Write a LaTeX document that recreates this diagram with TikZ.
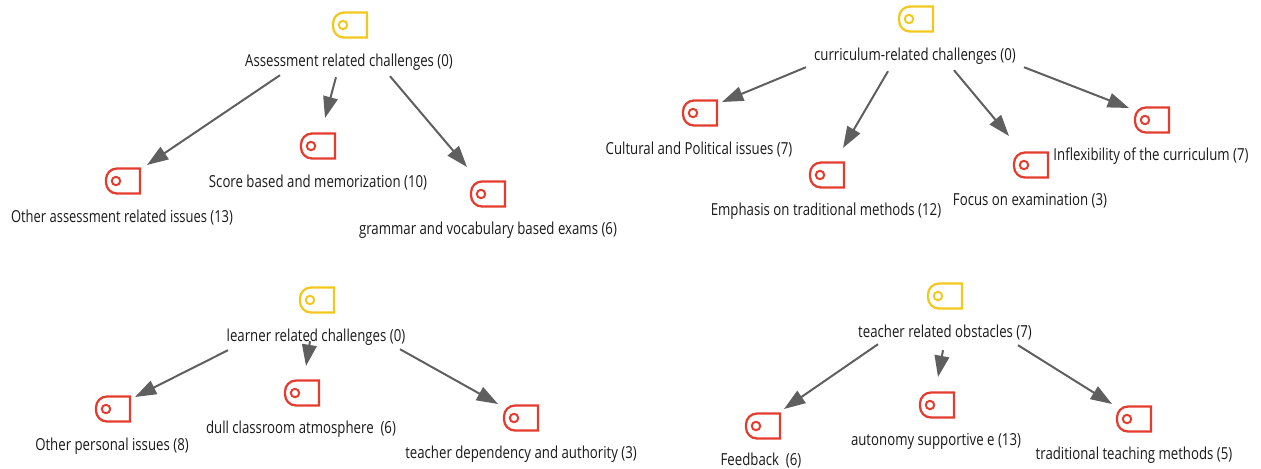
\documentclass[tikz,border=0pt]{standalone}
\usepackage{fontspec}
\setmainfont[FakeStretch=0.80]{Open Sans}
\usetikzlibrary{arrows.meta,calc}
\definecolor{tagred}{HTML}{E43D2F}
\definecolor{tagyellow}{HTML}{F2C81E}
\definecolor{linkgrey}{HTML}{5F5F5F}
\tikzset{
  x=0.75pt,y=-0.75pt,
  lbl/.style={inner sep=0pt,yshift=-0.9pt,text=black!90,font=\fontsize{12.4pt}{14pt}\selectfont},
  iconbox/.style={inner sep=0pt,minimum width=26.25pt,minimum height=19.5pt},
  link/.style={draw=linkgrey,line width=1.5pt,-{Triangle[length=16pt,width=11pt,fill=linkgrey]}},
  pics/tag/.style={code={
    \draw[#1,line width=1.7pt,line join=miter]
      (17,-12.5) -- (-6,-12.5) arc[start angle=-90,end angle=-180,radius=11] -- (-17,1.5) arc[start angle=180,end angle=90,radius=11] -- (17,12.5) -- cycle;
    \draw[#1,line width=1.5pt] (-7,0) circle[radius=4.2];
  }}
}
\newcommand{\tagicon}[4]{\node[iconbox] (#1) at (#2,#3) {}; \pic at (#1) {tag=#4};}
\begin{document}
\begin{tikzpicture}
\useasboundingbox (0,0) rectangle (1261,468);
% Assessment
\tagicon{ay}{350}{25}{tagyellow}
\tagicon{a1}{123}{181}{tagred}
\tagicon{a2}{318}{146}{tagred}
\tagicon{a3}{488}{194}{tagred}
\node[lbl] (at) at (349,61) {Assessment related challenges (0)};
\node[lbl,xscale=0.98] (a1t) at (122,216) {Other assessment related issues (13)};
\node[lbl] (a2t) at (318,181) {Score based and memorization (10)};
\node[lbl] (a3t) at (488,229) {grammar and vocabulary based exams (6)};
\draw[link] ($(at)+(-69,13)$) -- ($(a1)+(24,-16)$);
\draw[link] ($(at)+(-13,15)$) -- ($(a2)+(7,-28)$);
\draw[link] ($(at)+(41,14)$) -- ($(a3)+(-21,-27)$);
% Curriculum
\tagicon{cy}{916}{19}{tagyellow}
\tagicon{c1}{700}{113}{tagred}
\tagicon{c2}{827}{175}{tagred}
\tagicon{c3}{1031}{165}{tagred}
\tagicon{c4}{1152}{120}{tagred}
\node[lbl] (ct) at (915,55) {curriculum-related challenges (0)};
\node[lbl] (c1t) at (699,148) {Cultural and Political issues (7)};
\node[lbl] (c2t) at (826,210) {Emphasis on traditional methods (12)};
\node[lbl] (c3t) at (1030,200) {Focus on examination (3)};
\node[lbl] (c4t) at (1151,155) {Inflexibility of the curriculum (7)};
\draw[link] ($(ct)+(-109,11)$) -- ($(c1)+(22,-11)$);
\draw[link] ($(ct)+(-27,15)$) -- ($(c2)+(16,-27)$);
\draw[link] ($(ct)+(39,14)$) -- ($(c3)+(-22,-29)$);
\draw[link] ($(ct)+(109,11)$) -- ($(c4)+(-23,-12)$);
% Learner
\tagicon{ly}{317}{300}{tagyellow}
\tagicon{l1}{113}{409}{tagred}
\tagicon{l2}{302}{393}{tagred}
\tagicon{l3}{521}{418}{tagred}
\node[lbl] (lt) at (316,336) {learner related challenges (0)};
\node[lbl] (l1t) at (112,445) {Other personal issues (8)};
\node[lbl] (l2t) at (301,428) {dull classroom atmosphere\ \ (6)};
\node[lbl] (l3t) at (521,453) {teacher dependency and authority (3)};
\draw[link] ($(lt)+(-88,13)$) -- ($(l1)+(22,-12)$);
\draw[link] ($(lt)+(-6,4)$) -- ($(l2)+(4,-27)$);
\draw[link] ($(lt)+(84,12)$) -- ($(l3)+(-23,-14)$);
% Teacher
\tagicon{ty}{945}{296}{tagyellow}
\tagicon{t1}{763}{426}{tagred}
\tagicon{t2}{937}{405}{tagred}
\tagicon{t3}{1134}{419}{tagred}
\node[lbl] (tt) at (945,331) {teacher related obstacles (7)};
\node[lbl] (t1t) at (761,459.5) {Feedback\ \ (6)};
\node[lbl] (t2t) at (936,440) {autonomy supportive e (13)};
\node[lbl] (t3t) at (1134,454) {traditional teaching methods (5)};
\draw[link] ($(tt)+(-67,12)$) -- ($(t1)+(21,-17)$);
\draw[link] ($(tt)+(-2,18)$) -- ($(t2)+(1,-28)$);
\draw[link] ($(tt)+(73,13)$) -- ($(t3)+(-22,-15)$);
\end{tikzpicture}
\end{document}
